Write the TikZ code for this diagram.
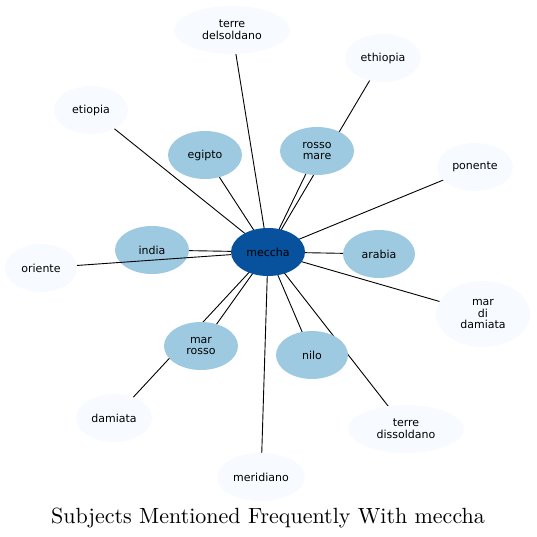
\documentclass[tikz,border=0pt]{standalone}
\usepackage{fontspec}
\setsansfont{DejaVu Sans}
\newfontfamily\titlefont{lmroman10-regular.otf}
\usetikzlibrary{shapes.geometric}
\pgfdeclarelayer{background}
\pgfsetlayers{background,main}
\definecolor{hub}{HTML}{08519C}
\definecolor{mid}{HTML}{9ECAE1}
\definecolor{light}{HTML}{F7FBFF}
\tikzset{
  ell/.style={ellipse, inner sep=0pt, align=center, font=\sffamily\fontsize{11}{11.7}\selectfont, text=black},
  hubnode/.style={ell, fill=hub, minimum width=74pt, minimum height=48pt},
  midnode/.style={ell, fill=mid, minimum width=74pt, minimum height=48pt},
  lightnode/.style={ell, fill=light, minimum width=76pt, minimum height=48pt},
  edge/.style={draw=black, line width=0.9pt},
}
\begin{document}
\begin{tikzpicture}[x=1pt,y=-1pt]
\useasboundingbox (0,0) rectangle (536,537);
\node[hubnode] (meccha) at (268,252) {meccha};
\node[midnode] (egipto) at (205,155) {egipto};
\node[midnode] (rossomare) at (317,151) {rosso\\mare};
\node[midnode] (india) at (152,250) {india};
\node[midnode, minimum width=72pt] (arabia) at (379,254) {arabia};
\node[midnode] (marrosso) at (201,346) {mar\\rosso};
\node[midnode, minimum width=72pt] (nilo) at (312,355) {nilo};
\node[lightnode, minimum width=116pt] (terredel) at (232,30) {terre\\delsoldano};
\node[lightnode] (ethiopia) at (383,58) {ethiopia};
\node[lightnode, minimum width=74pt] (etiopia) at (91,110) {etiopia};
\node[lightnode] (ponente) at (475,167) {ponente};
\node[lightnode, minimum width=72pt] (oriente) at (41,268) {oriente};
\node[lightnode, minimum width=94pt, minimum height=66pt] (mardi) at (483,314) {mar\\di\\damiata};
\node[lightnode] (damiata) at (114,418) {damiata};
\node[lightnode, minimum width=116pt] (terredis) at (406,429) {terre\\dissoldano};
\node[lightnode, minimum width=88pt] (meridiano) at (261,477) {meridiano};
\node[font=\titlefont\fontsize{22}{26}\selectfont, anchor=base] (title) at (268,523) {Subjects Mentioned Frequently With meccha};
\begin{pgfonlayer}{background}
\foreach \t in {egipto,rossomare,ethiopia,india,arabia,marrosso,damiata,nilo,terredel,etiopia,ponente,mardi,terredis,meridiano}{
  \draw[edge] (meccha.center) -- (\t.center);
}
\end{pgfonlayer}
\draw[edge] (meccha) -- (oriente);
\end{tikzpicture}
\end{document}
